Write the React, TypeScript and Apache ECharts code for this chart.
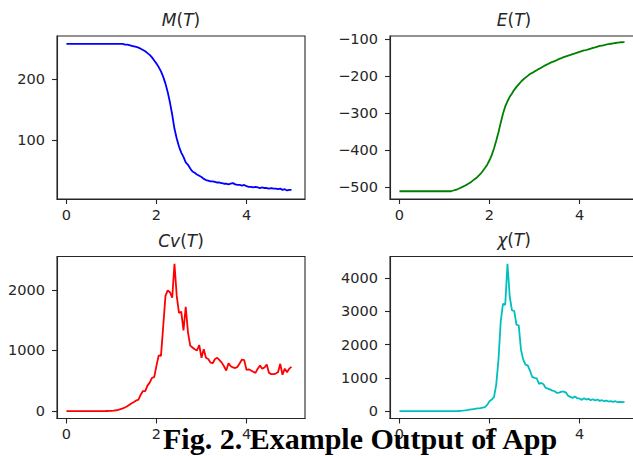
import React, { useEffect, useRef } from "react";
import * as echarts from "echarts";

const temps = [
  0.0, 0.05, 0.1, 0.15, 0.2, 0.25, 0.3, 0.35, 0.4, 0.45,
  0.5, 0.55, 0.6, 0.65, 0.7, 0.75, 0.8, 0.85, 0.9, 0.95,
  1.0, 1.05, 1.1, 1.15, 1.2, 1.25, 1.3, 1.35, 1.4, 1.45,
  1.5, 1.55, 1.6, 1.65, 1.7, 1.75, 1.8, 1.85, 1.9, 1.95,
  2.0, 2.05, 2.1, 2.15, 2.2, 2.25, 2.3, 2.35, 2.4, 2.45,
  2.5, 2.55, 2.6, 2.65, 2.7, 2.75, 2.8, 2.85, 2.9, 2.95,
  3.0, 3.05, 3.1, 3.15, 3.2, 3.25, 3.3, 3.35, 3.4, 3.45,
  3.5, 3.55, 3.6, 3.65, 3.7, 3.75, 3.8, 3.85, 3.9, 3.95,
  4.0, 4.05, 4.1, 4.15, 4.2, 4.25, 4.3, 4.35, 4.4, 4.45,
  4.5, 4.55, 4.6, 4.65, 4.7, 4.75, 4.8, 4.85, 4.9, 4.95,
  5.0,
];

const magnetization = [
  258, 258, 258, 258, 258, 258, 258, 258, 258, 258,
  258, 258, 258, 258, 258, 258, 258, 258, 258, 258,
  258, 258, 258, 258, 258, 258, 257, 257, 256, 255,
  254, 253, 252, 250, 248, 246, 243, 240, 236, 231,
  226, 220, 213, 204, 193, 179, 162, 142, 119, 103,
  90, 80, 73, 64, 60, 54, 49, 47, 44, 42,
  40, 37, 35, 34, 33, 33, 32, 31, 31, 30,
  29, 29, 28, 29, 30, 28, 27, 27, 26, 27,
  25, 24, 24, 23, 24, 23, 22, 23, 22, 22,
  21, 22, 21, 21, 20, 21, 19, 20, 18, 19,
  19,
];

const energy = [
  -512, -512, -512, -512, -512, -512, -512, -512, -512, -512,
  -512, -512, -512, -512, -512, -512, -512, -512, -512, -512,
  -512, -512, -512, -512, -510, -508, -506, -503, -500, -497,
  -494, -490, -486, -481, -477, -471, -465, -457, -449, -440,
  -428, -414, -396, -375, -352, -326, -302, -282, -268, -256,
  -247, -237, -229, -222, -215, -209, -204, -199, -194, -191,
  -187, -184, -180, -177, -173, -170, -167, -164, -161, -159,
  -156, -153, -151, -148, -146, -144, -142, -140, -138, -136,
  -134, -132, -130, -129, -127, -125, -123, -122, -120, -118,
  -117, -116, -114, -113, -112, -111, -110, -109, -108, -108,
  -107,
];

const heatCapacity = [
  0, 0, 0, 0, 0, 0, 0, 0, 0, 0,
  0, 0, 0, 0, 0, 0, 1, 1, 2, 3,
  5, 8, 14, 22, 32, 45, 60, 80, 105, 130,
  150, 175, 190, 270, 330, 330, 420, 470, 550, 560,
  750, 920, 910, 1400, 1900, 1990, 1960, 1870, 2430, 1900,
  1620, 1640, 1330, 1720, 1300, 1080, 1050, 1020, 1000, 1090,
  880, 1020, 880, 860, 800, 790, 860, 880, 840, 800,
  740, 670, 790, 740, 720, 710, 730, 790, 850, 840,
  680, 690, 670, 650, 630, 700, 750, 700, 720, 770,
  630, 610, 610, 620, 640, 780, 600, 700, 640, 700,
  730,
];

const susceptibility = [
  0, 0, 0, 0, 0, 0, 0, 0, 0, 0,
  0, 0, 0, 0, 0, 0, 0, 0, 0, 0,
  0, 0, 1, 1, 2, 3, 6, 10, 15, 22,
  32, 45, 55, 65, 75, 85, 95, 110, 125, 190,
  300, 350, 420, 800, 1550, 2700, 3230, 3200, 4430, 3450,
  3030, 3020, 2600, 2580, 1850, 1550, 1400, 1380, 1220, 1030,
  1000, 990, 820, 850, 810, 700, 680, 650, 620, 600,
  550, 560, 590, 590, 560, 460, 430, 400, 440, 390,
  380, 340, 390, 350, 370, 330, 360, 320, 350, 310,
  330, 300, 320, 290, 300, 280, 300, 270, 280, 270,
  280,
];

const xTicks = [0, 2, 4];
const mTicks = [100, 200];
const eTicks = [-500, -400, -300, -200, -100];
const cvTicks = [0, 1000, 2000];
const chiTicks = [0, 1000, 2000, 3000, 4000];

const panelTitles = [
  "{i|M}({i|T})",
  "{i|E}({i|T})",
  "{i|Cv}({i|T})",
  "{i|χ}({i|T})",
];
const captionText = "Fig. 2. Example Output of App";

const TEXT = "#262626";
const FONT = "DejaVu Sans";

export default function App() {
  const ref = useRef<HTMLDivElement>(null);

  useEffect(() => {
    if (!ref.current) return;
    const chart = echarts.init(ref.current, undefined, { renderer: "svg" });

    const grids = [
      { left: 57, top: 36, width: 248, height: 163 },
      { left: 390, top: 36, width: 248, height: 163 },
      { left: 57, top: 256.5, width: 248, height: 162 },
      { left: 390, top: 256.5, width: 248, height: 162 },
    ].map((g) => ({
      ...g,
      show: true,
      borderColor: TEXT,
      borderWidth: 1.1,
      backgroundColor: "transparent",
      containLabel: false,
      outerBoundsMode: "none",
    }));

    const fmt = (v: number) => String(v).replace("-", "\u2212");

    const xAxis = [0, 1, 2, 3].map((i) => ({
      type: "value",
      gridIndex: i,
      min: -0.21,
      max: 5.3,
      axisLine: { show: true, onZero: false, lineStyle: { color: TEXT, width: 1.1 } },
      splitLine: { show: false },
      axisTick: { show: true, customValues: xTicks, length: 5, lineStyle: { color: TEXT, width: 1.1 } },
      axisLabel: {
        customValues: xTicks,
        fontSize: 14.5,
        fontFamily: FONT,
        color: TEXT,
        margin: 8,
        formatter: fmt,
      },
    }));

    const yDefs = [
      { min: 4, max: 271, ticks: mTicks },
      { min: -533, max: -91, ticks: eTicks },
      { min: -122, max: 2550, ticks: cvTicks },
      { min: -220, max: 4653, ticks: chiTicks },
    ];
    const yAxis = yDefs.map((d, i) => ({
      type: "value",
      gridIndex: i,
      min: d.min,
      max: d.max,
      axisLine: { show: true, onZero: false, lineStyle: { color: TEXT, width: 1.1 } },
      splitLine: { show: false },
      axisTick: { show: true, customValues: d.ticks, length: 5, lineStyle: { color: TEXT, width: 1.1 } },
      axisLabel: {
        customValues: d.ticks,
        fontSize: 14.5,
        fontFamily: FONT,
        color: TEXT,
        margin: 12,
        formatter: fmt,
      },
    }));

    const seriesData = [magnetization, energy, heatCapacity, susceptibility];
    const colors = ["#0000ff", "#008000", "#ff0000", "#00bfbf"];
    const series = seriesData.map((vals, i) => ({
      type: "line",
      xAxisIndex: i,
      yAxisIndex: i,
      data: temps.map((t, k) => [t, vals[k]]),
      showSymbol: false,
      symbol: "none",
      lineStyle: { color: colors[i], width: 1.8 },
      itemStyle: { color: colors[i] },
      silent: true,
    }));

    const titlePos = [
      [181, 20],
      [514, 20],
      [181, 241],
      [514, 240],
    ];
    const titleGraphics = panelTitles.map((t, i) => ({
      type: "text",
      x: titlePos[i][0],
      y: titlePos[i][1],
      style: {
        text: t,
        fontSize: 17,
        fontFamily: FONT,
        fill: TEXT,
        align: "center",
        verticalAlign: "middle",
        rich: {
          i: { fontStyle: "italic", fontSize: 17, fontFamily: FONT, fill: TEXT },
        },
      },
    }));

    chart.setOption({
      animation: false,
      backgroundColor: "#ffffff",
      grid: grids,
      xAxis,
      yAxis,
      series,
      graphic: [
        ...titleGraphics,
        {
          type: "text",
          x: 163,
          y: 438,
          z: 100,
          style: {
            text: captionText,
            fontSize: 30,
            fontWeight: "bold",
            fontFamily: "Liberation Serif",
            fill: "#000000",
            align: "left",
            verticalAlign: "middle",
          },
        },
      ],
    });

    return () => chart.dispose();
  }, []);

  return (
    <div
      ref={ref}
      style={{ position: "absolute", left: 0, top: 0, width: 633, height: 456, background: "#fff" }}
    />
  );
}
